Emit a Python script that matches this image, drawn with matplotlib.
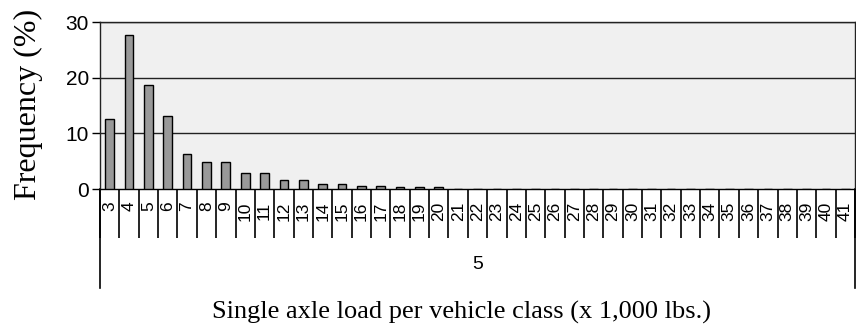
import matplotlib
matplotlib.use("Agg")
import matplotlib.pyplot as plt
from matplotlib.lines import Line2D
import matplotlib.transforms as mtransforms

categories = list(range(3, 42))
frequency = [12.6, 27.6, 18.7, 13.1, 6.2, 4.8, 4.8, 2.9, 2.9, 1.7, 1.7, 0.9, 0.9,
             0.6, 0.6, 0.3, 0.3, 0.3] + [0.0] * 21
group_label = "5"
yticks = [0, 10, 20, 30]
xlabel = "Single axle load per vehicle class (x 1,000 lbs.)"
ylabel = "Frequency (%)"

W, H = 856, 335
fig = plt.figure(figsize=(W / 100, H / 100), dpi=100)
left, right, top, bottom = 100, 855, 22, 189
ax = fig.add_axes([left / W, 1 - bottom / H, (right - left) / W, (bottom - top) / H])
ax.set_facecolor("#f0f0f0")

x = list(range(len(categories)))
ax.bar(x, frequency, width=0.45, color="#999999", edgecolor="black", linewidth=1.0, zorder=3)

ax.set_xlim(-0.5, len(categories) - 0.5)
ax.set_ylim(0, 30)
ax.set_yticks(yticks)
ax.set_yticklabels([str(v) for v in yticks], fontsize=15, family="Liberation Sans")
ax.tick_params(axis="y", length=6, width=1, pad=2, color="black")
for v in yticks[1:]:
    ax.axhline(v, color="#222222", linewidth=1.0, zorder=2)

# category boundary ticks (long) and labels (minor ticks)
bounds = [i - 0.5 for i in range(len(categories) + 1)]
ax.set_xticks(bounds)
ax.set_xticklabels([])
ax.tick_params(axis="x", which="major", length=49 * 0.72, width=1.2, color="black")
ax.set_xticks(x, minor=True)
ax.set_xticklabels([str(c) for c in categories], minor=True, rotation=90,
                   fontsize=12.5, family="Liberation Sans", va="top")
ax.tick_params(axis="x", which="minor", length=0, pad=9)

for s in ["top", "right", "left", "bottom"]:
    ax.spines[s].set_color("#222222")
    ax.spines[s].set_linewidth(1.0)
ax.spines["bottom"].set_color("black")

trans = mtransforms.blended_transform_factory(ax.transData, ax.transAxes)
yb = -(288 - bottom) / (bottom - top)
for xb in (bounds[0], bounds[-1]):
    ax.add_line(Line2D([xb, xb], [0, yb], transform=trans, color="black",
                       linewidth=1.2, clip_on=False))

ax.text(0.5, -(264 - bottom) / (bottom - top), group_label, transform=ax.transAxes,
        ha="center", va="center", fontsize=14, family="Liberation Sans")

fig.text(462 / W, 1 - 312 / H, xlabel, ha="center", va="center",
         fontsize=19, family="Liberation Serif")
fig.text(28 / W, 1 - 104 / H, ylabel, ha="center", va="center", rotation=90,
         fontsize=23, family="Liberation Serif")

fig.savefig("out.png", dpi=100)
